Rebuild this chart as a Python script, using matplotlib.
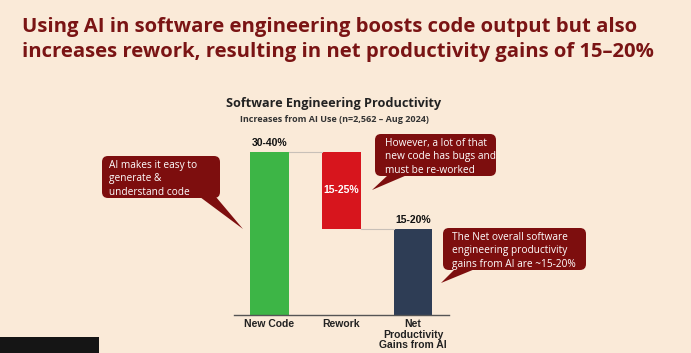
import matplotlib.pyplot as plt
from matplotlib.patches import FancyBboxPatch, Polygon, Rectangle

# data
categories = ["New Code", "Rework", "Net\nProductivity\nGains from AI"]
new_code = 35.0      # 30-40%
rework = 16.5        # 15-25%
net = new_code - rework
value_labels = ["30-40%", "15-25%", "15-20%"]

bg = "#FAEAD8"
dark_red = "#7A1414"
box_red = "#7D0E0E"
colors = ["#3DB546", "#D7151D", "#2E3D55"]

W, H = 691, 353
fig = plt.figure(figsize=(W / 100, H / 100), dpi=100)
fig.patch.set_facecolor(bg)

# title
fig.text(22 / W, 1 - 27 / H, "Using AI in software engineering boosts code output but also",
         fontsize=14.6, fontweight="bold", family="Open Sans", color=dark_red, va="center")
fig.text(22 / W, 1 - 52 / H, "increases rework, resulting in net productivity gains of 15\u201320%",
         fontsize=14.6, fontweight="bold", family="Open Sans", color=dark_red, va="center")

fig.text(334 / W, 1 - 104 / H, "Software Engineering Productivity", fontsize=9.1,
         fontweight="bold", family="Open Sans", color="#222222", ha="center", va="center")
fig.text(334 / W, 1 - 119 / H, "Increases from AI Use (n=2,562 \u2013 Aug 2024)", fontsize=6.5,
         fontweight="bold", family="Open Sans", color="#333333", ha="center", va="center")

# bar axes
x0, x1, ytop, ybase = 234, 449, 140, 315
ax = fig.add_axes([x0 / W, 1 - ybase / H, (x1 - x0) / W, (ybase - ytop) / H])
ax.set_facecolor("none")
xs = [0, 1, 2]
bottoms = [0, net, 0]
heights = [new_code, rework, net]
ax.bar(xs, heights, bottom=bottoms, width=0.54, color=colors)
ax.set_xlim(-0.49, 2.5)
ax.set_ylim(0, new_code * (ybase - ytop) / (ybase - 152))

# connectors
ax.plot([0.27, 0.73], [new_code, new_code], color="#C8C0B8", lw=0.8)
ax.plot([1.27, 1.73], [net, net], color="#C8C0B8", lw=0.8)

for s in ["top", "right", "left"]:
    ax.spines[s].set_visible(False)
ax.spines["bottom"].set_color("#555555")
ax.spines["bottom"].set_linewidth(1.0)
ax.set_yticks([])
ax.set_xticks(xs)
ax.set_xticklabels(categories, fontsize=7.5, fontweight="bold", family="Liberation Sans",
                   color="#222222", linespacing=1.05)
ax.tick_params(axis="x", length=0, pad=3)

lab_kw = dict(fontsize=7.5, fontweight="bold", family="Liberation Sans", ha="center")
ax.text(0, new_code + 0.8, value_labels[0], va="bottom", color="#111111", **lab_kw)
ax.text(1, net + rework / 2, value_labels[1], va="center", color="white", **lab_kw)
ax.text(2, net + 0.8, value_labels[2], va="bottom", color="#111111", **lab_kw)

# callouts (pixel overlay)
ov = fig.add_axes([0, 0, 1, 1])
ov.set_xlim(0, W)
ov.set_ylim(H, 0)
ov.axis("off")
ov.set_facecolor("none")


def callout(x, y, w, h, pointer, text, tx, ty):
    ov.add_patch(FancyBboxPatch((x, y), w, h, boxstyle="round,pad=0,rounding_size=6",
                                fc=box_red, ec="none"))
    ov.add_patch(Polygon(pointer, closed=True, fc=box_red, ec="none"))
    ov.text(tx, ty, text, color="white", fontsize=7.3, family="Open Sans",
            va="top", ha="left", linespacing=1.3)


callout(102, 156, 118, 42, [(200, 197), (216, 197), (243, 229)],
        "AI makes it easy to\ngenerate &\nunderstand code", 109, 160)
callout(375, 134, 121, 42, [(388, 175), (407, 175), (372, 190)],
        "However, a lot of that\nnew code has bugs and\nmust be re-worked", 385, 138)
callout(443, 228, 143, 42, [(455, 269), (475, 269), (441, 283)],
        "The Net overall software\nengineering productivity\ngains from AI are ~15-20%", 452, 232)

# dark strip bottom-left of the source frame
ov.add_patch(Rectangle((0, 337), 99, 16, fc="#151515", ec="none"))

fig.savefig("out.png", dpi=100, facecolor=bg)
